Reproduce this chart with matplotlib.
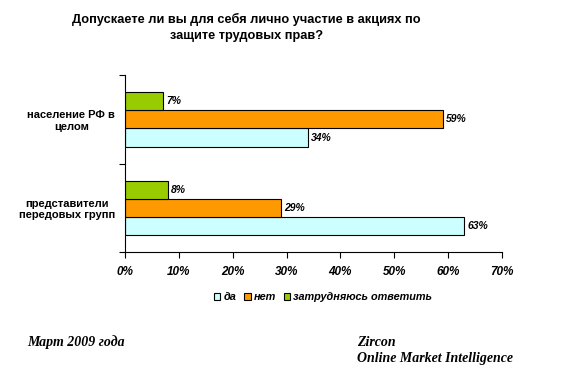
import numpy as np
import matplotlib
matplotlib.use('Agg')
import matplotlib.pyplot as plt
from matplotlib.patches import Patch

categories = ['представители\nпередовых групп', 'население РФ в\nцелом']
series_names = ['да', 'нет', 'затрудняюсь ответить']
da = [63, 34]
net = [29, 59]
zatr = [8, 7]
xticks = [0, 10, 20, 30, 40, 50, 60, 70]

colors = ['#CCFFFF', '#FF9900', '#99CC00']

plt.rcParams['font.family'] = ['Liberation Sans', 'DejaVu Sans']

fig = plt.figure(figsize=(5.7, 3.74), dpi=100)
ax = fig.add_axes([0.219, 0.326, 0.662, 0.473])

y = np.arange(len(categories))
h = 0.205
for i, (vals, c) in enumerate(zip([da, net, zatr], colors)):
    pos = y + (i - 1) * h
    ax.barh(pos, vals, height=h, color=c, edgecolor='black', linewidth=0.8,
            label=series_names[i])
    for p, v in zip(pos, vals):
        ax.text(v + 0.6, p, '%d%%' % v, va='center', ha='left', fontsize=7.5,
                fontweight='bold', style='italic')

ax.set_xlim(0, 70)
ax.set_ylim(-0.5, 1.5)
ax.set_xticks(xticks)
ax.set_xticklabels(['%d%%' % t for t in xticks], fontsize=8.5,
                   fontweight='bold', style='italic')
ax.set_yticks([-0.5, 0.5, 1.5])
ax.set_yticklabels([])
ax.set_yticks(y, minor=True)
ax.set_yticklabels(categories, minor=True, fontsize=8, fontweight='bold')
for lab in ax.get_yticklabels(minor=True):
    lab.set_multialignment('center')
ax.tick_params(axis='y', which='minor', length=0, pad=7)
ax.tick_params(axis='y', which='major', length=4, direction='out')
ax.tick_params(axis='x', length=4, direction='out', pad=6)
for s in ['top', 'right']:
    ax.spines[s].set_visible(False)

handles = [Patch(facecolor=c, edgecolor='black', linewidth=0.8) for c in colors]
fig.legend(handles, series_names, loc='center', bbox_to_anchor=(0.567, 0.205),
           ncol=3, frameon=False, handlelength=0.6, handleheight=0.6,
           handletextpad=0.3, columnspacing=0.7,
           prop={'size': 7.8, 'weight': 'bold', 'style': 'italic'})

fig.text(0.432, 0.927, 'Допускаете ли вы для себя лично участие в акциях по\nзащите трудовых прав?',
         ha='center', va='center', fontsize=9.2, fontweight='bold', linespacing=1.5)

serif = {'family': ['Liberation Serif', 'DejaVu Serif'], 'size': 10,
         'weight': 'bold', 'style': 'italic'}
fig.text(0.047, 0.085, 'Март 2009 года', ha='left', va='center', fontdict=serif)
fig.text(0.626, 0.085, 'Zircon', ha='left', va='center', fontdict=serif)
fig.text(0.626, 0.042, 'Online Market Intelligence', ha='left', va='center', fontdict=serif)

fig.savefig('out.png', dpi=100)
